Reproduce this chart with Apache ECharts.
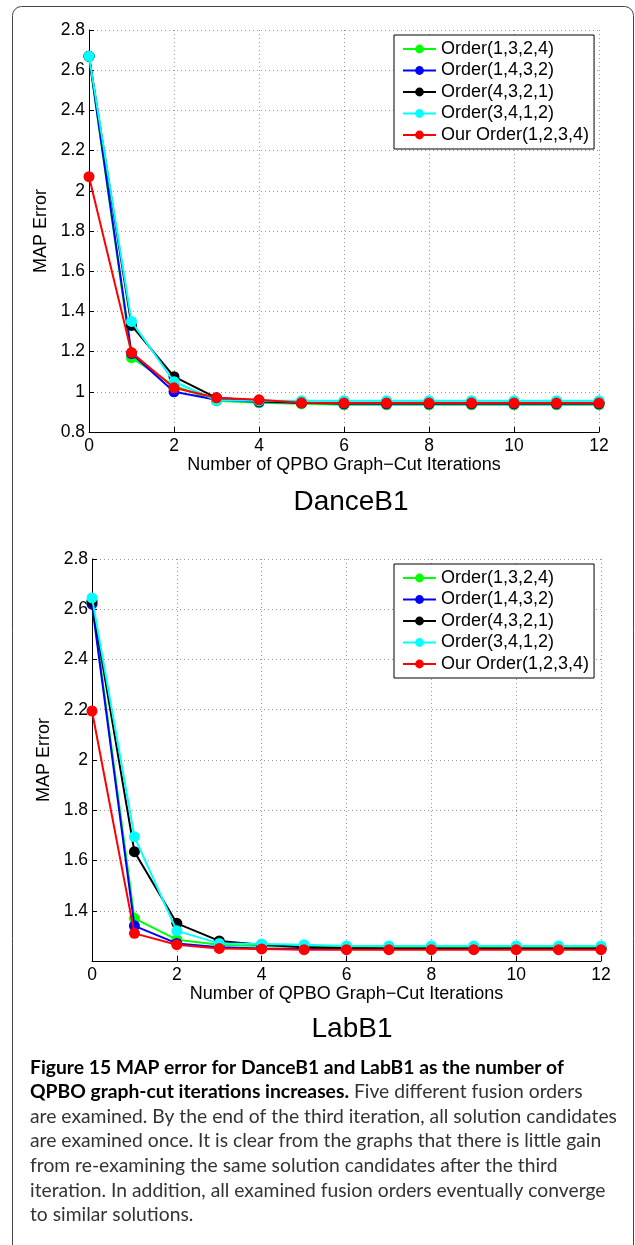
<!DOCTYPE html>
<html>
<head>
<meta charset="utf-8">
<script src="https://cdn.jsdelivr.net/npm/echarts@6/dist/echarts.min.js"></script>
<style>html,body{margin:0;padding:0;background:#fff;}#c{width:635px;height:1245px;}</style>
</head>
<body>
<div id="c"></div>
<script>
// ---- data ----
const iterations = [0,1,2,3,4,5,6,7,8,9,10,11,12];
const seriesNames = ['Order(1,3,2,4)','Order(1,4,3,2)','Order(4,3,2,1)','Order(3,4,1,2)','Our Order(1,2,3,4)'];
const seriesColors = ['#00ff00','#0000ff','#000000','#00ffff','#ff0000'];
const xTicks = [0,2,4,6,8,10,12];

// DanceB1
const danceGreen = [2.67,1.17,1.03,0.955,0.945,0.94,0.935,0.935,0.935,0.935,0.935,0.935,0.935];
const danceBlue  = [2.67,1.19,1.00,0.96,0.95,0.945,0.94,0.94,0.94,0.94,0.94,0.94,0.94];
const danceBlack = [2.67,1.33,1.075,0.97,0.955,0.945,0.945,0.945,0.945,0.945,0.945,0.945,0.945];
const danceCyan  = [2.67,1.35,1.05,0.958,0.956,0.956,0.956,0.956,0.956,0.956,0.956,0.956,0.956];
const danceRed   = [2.07,1.195,1.02,0.97,0.96,0.945,0.944,0.944,0.944,0.944,0.944,0.944,0.944];

// LabB1
const labGreen = [2.63,1.37,1.285,1.265,1.26,1.257,1.255,1.255,1.255,1.255,1.255,1.255,1.255];
const labBlue  = [2.62,1.34,1.27,1.255,1.25,1.248,1.248,1.248,1.248,1.248,1.248,1.248,1.248];
const labBlack = [2.63,1.635,1.35,1.28,1.265,1.255,1.252,1.25,1.25,1.25,1.25,1.25,1.25];
const labCyan  = [2.645,1.695,1.32,1.27,1.268,1.265,1.26,1.26,1.26,1.26,1.26,1.26,1.26];
const labRed   = [2.195,1.31,1.265,1.25,1.248,1.245,1.245,1.245,1.245,1.245,1.245,1.245,1.245];

const chartTitles = ['DanceB1','LabB1'];
const xName = 'Number of QPBO Graph\u2212Cut Iterations';
const yName = 'MAP Error';

const captionLines = [
  [['b','Figure 15 MAP error for DanceB1 and LabB1 as the number of']],
  [['b','QPBO graph-cut iterations increases.'],['n',' Five different fusion orders']],
  [['n','are examined. By the end of the third iteration, all solution candidates']],
  [['n','are examined once. It is clear from the graphs that there is little gain']],
  [['n','from re-examining the same solution candidates after the third']],
  [['n','iteration. In addition, all examined fusion orders eventually converge']],
  [['n','to similar solutions.']]
];

// ---- chart ----
const F = 'Liberation Sans, Arial, sans-serif';
const danceData = [danceGreen,danceBlue,danceBlack,danceCyan,danceRed];
const labData = [labGreen,labBlue,labBlack,labCyan,labRed];

function mkSeries(arrs, idx){
  return arrs.map((a,i)=>({
    name: seriesNames[i], type:'line', xAxisIndex: idx, yAxisIndex: idx,
    data: iterations.map((x,j)=>[x,a[j]]),
    symbol:'circle', symbolSize: 11,
    lineStyle:{color:seriesColors[i], width:2},
    itemStyle:{color:seriesColors[i]},
    z: 2+i, animation:false
  }));
}
function mkX(idx, gap){
  return {gridIndex: idx, type:'value', min:0, max:12, interval:2,
    name: xName, nameLocation:'middle', nameGap: gap,
    nameTextStyle:{fontFamily:F, fontSize:18, color:'#000'},
    axisLine:{lineStyle:{color:'#000', width:1}},
    axisTick:{inside:true, length:5, lineStyle:{color:'#000'}},
    axisLabel:{fontFamily:F, fontSize:17.5, color:'#000', margin:5},
    splitLine:{show:true, lineStyle:{type:[1,3], color:'#999', width:1}}};
}
function mkY(idx, min, showMin){
  return {gridIndex: idx, type:'value', min:min, max:2.8, interval:0.2,
    name: yName, nameLocation:'middle', nameGap: 32,
    nameTextStyle:{fontFamily:F, fontSize:18, color:'#000'},
    axisLine:{show:true, lineStyle:{color:'#000', width:1}},
    axisTick:{show:true, inside:true, length:5, lineStyle:{color:'#000'}},
    axisLabel:{fontFamily:F, fontSize:17.5, color:'#000', margin:4, showMinLabel: showMin,
      formatter: v => String(Math.round(v*10)/10)},
    splitLine:{show:true, lineStyle:{type:[1,3], color:'#999', width:1}}};
}
function mkLegend(top){
  return {orient:'vertical', left:394, top:top, data: seriesNames,
    backgroundColor:'#fff', borderColor:'#000', borderWidth:1, borderRadius:0,
    padding:[5,5,5,8], itemGap:3.5, itemWidth:33, itemHeight:11,
    textStyle:{fontFamily:F, fontSize:18, color:'#000'}, selectedMode:false};
}

const captionText = captionLines.map(l => l.map(p => '{'+p[0]+'|'+p[1]+'}').join('')).join('\n');

const option = {
  backgroundColor:'#fff',
  animation:false,
  grid:[
    {left:89, top:30, width:510, height:402},
    {left:92, top:559, width:509, height:402}
  ],
  xAxis:[mkX(0,22), mkX(1,22)],
  yAxis:[mkY(0,0.8,true), mkY(1,1.2,false)],
  legend:[mkLegend(35), mkLegend(564)],
  series:[...mkSeries(danceData,0), ...mkSeries(labData,1)],
  graphic:[
    {type:'rect', shape:{x:12.5, y:6.5, width:621, height:1300, r:9}, style:{fill:'none', stroke:'#444', lineWidth:1}, silent:true, z:-1},
    {type:'text', x:351, y:502, style:{text:chartTitles[0], align:'center', verticalAlign:'middle', fontFamily:F, fontSize:28, fill:'#000'}},
    {type:'text', x:352, y:1029, style:{text:chartTitles[1], align:'center', verticalAlign:'middle', fontFamily:F, fontSize:28, fill:'#000'}},
    {type:'text', x:30, y:1055, style:{text:captionText, fill:'#222',
      rich:{
        b:{fontFamily:'Lato, Open Sans, sans-serif', fontWeight:'bold', fontSize:19.3, lineHeight:24.6, fill:'#000'},
        n:{fontFamily:'Lato, Open Sans, sans-serif', fontWeight:'normal', fontSize:19.3, lineHeight:24.6, fill:'#333'}
      }}}
  ]
};
const chart = echarts.init(document.getElementById('c'), null, {renderer:'canvas'});
chart.setOption(option);
</script>
</body>
</html>
